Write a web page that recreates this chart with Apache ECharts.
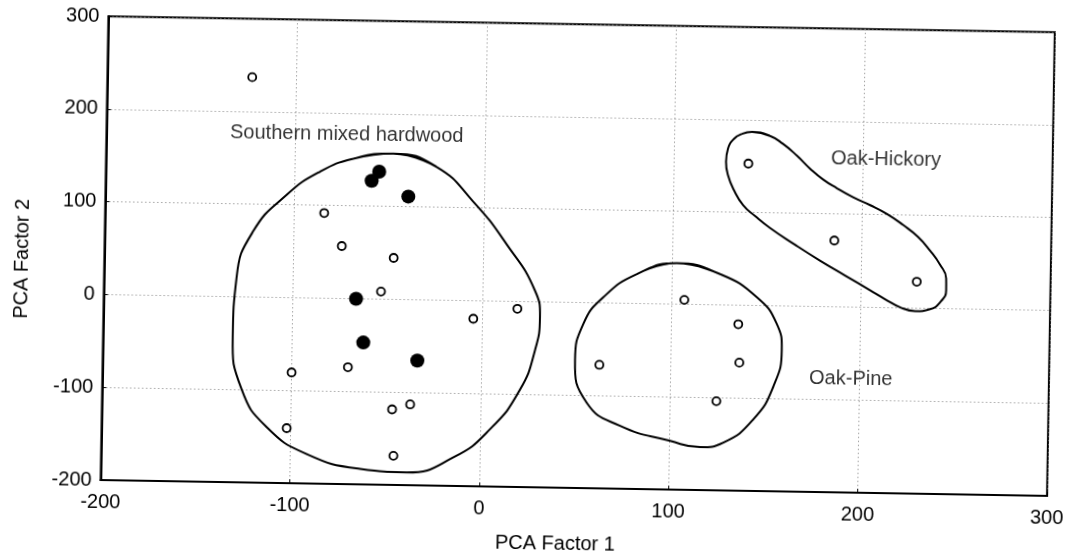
<!DOCTYPE html>
<html>
<head>
<meta charset="utf-8">
<title>PCA Factor 1 vs PCA Factor 2</title>
<script src="https://cdn.jsdelivr.net/npm/echarts@6/dist/echarts.min.js"></script>
<style>
html, body {
	margin: 0;
	padding: 0;
	background: #fff;
}
/* the scanned figure sits slightly askew, so tilt the whole chart a little */
#chart {
	width: 1076px;
	height: 559px;
	transform: rotate(0.96deg);
	transform-origin: 578px 261px;
}
</style>
</head>
<body>
<div id="chart"></div>
<script>
// plots (open circles)
var openPoints = [
	[-123.5, 237], [-84.3, 91.8], [-74.7, 56.6], [-47.2, 44.7], [-53.6, 8.2],
	[-4.6, -19.4], [18.6, -7.9], [-100.1, -80.6], [-70.4, -73.9], [-46.7, -118.6],
	[-37.2, -112.9], [-102.2, -140.7], [-45.6, -168.6],
	[106.7, 4.7], [135.4, -20.6], [136.3, -61.9], [62.4, -66.8], [124.5, -103.9],
	[139.3, 152.8], [185.4, 71.4], [229.3, 28.5]
];
// plots (filled circles)
var filledPoints = [
	[-55.6, 137.4], [-59.5, 127.5], [-40, 111.1], [-66.7, 0], [-62.5, -47], [-33.8, -65.5]
];

// outlines drawn round each group
var southernHull = [
	[-48.3, 157.1], [-25.3, 143.6], [-5.7, 106.9], [12.4, 61.3], [27.7, 12.1],
	[30.6, -16.3], [28.3, -52], [20.7, -95], [5.2, -138.2], [-13.9, -169.2],
	[-38.4, -186.2], [-63.1, -183.3], [-91.4, -168.3], [-112.8, -139.9], [-126.3, -100],
	[-131.5, -43.2], [-130, 20.9], [-121.6, 71], [-104.3, 110.7], [-86.9, 136.3],
	[-69.4, 151]
];
var oakHickoryHull = [
	[141, 187], [150.5, 183], [157.4, 174.7], [164.9, 162.2], [171.9, 148.6],
	[178.9, 137], [186.4, 127.7], [194.9, 118.4], [204, 110.2], [213, 100.9],
	[221.6, 89.4], [229.6, 76.8], [236.1, 62.1], [241.4, 47.4], [244.8, 32.5],
	[244.9, 19.7], [242.3, 7.9], [236.6, -0.9], [228.7, -3.2], [220.7, 0.7],
	[212.7, 9.1], [204.7, 18.4], [191.4, 33.9], [178, 49.5], [164.7, 66.1],
	[151.3, 83.8], [143.3, 96.4], [136.9, 107.9], [132, 123.7], [128.7, 139.6],
	[127.5, 154.5], [128.4, 168.4], [131.5, 179.2], [135.7, 184.7]
];
var oakPineHull = [
	[102.4, 44.1], [125.4, 33.1], [145, 8.9], [155.7, -19.3], [158.6, -47.6],
	[154.5, -86.9], [144.2, -122.8], [128.6, -148.3], [116.3, -153.7], [100.4, -147.5],
	[73.9, -132.3], [56.1, -108.1], [49.5, -62], [53.6, -22.7], [63.9, 6.1],
	[81.4, 31.6]
];

var groupNames = ['Southern mixed hardwood', 'Oak-Hickory', 'Oak-Pine'];
var groupLabelAt = [[-134.7, 176.6], [182.9, 159.6], [173.3, -77.7]];

var xTicks = [-200, -100, 0, 100, 200, 300];
var yTicks = [-200, -100, 0, 100, 200, 300];

var fontFamily = '"Liberation Sans", Arial, sans-serif';

// wrap the ring so the smoothed line closes without a corner
function closeLoop(pts) {
	return [pts[pts.length - 1]].concat(pts, [pts[0], pts[1]]);
}

function hullSeries(pts) {
	return {
		type: 'line',
		data: closeLoop(pts),
		smooth: 0.5,
		showSymbol: false,
		silent: true,
		z: 2,
		lineStyle: { color: '#000', width: 2 }
	};
}

var chart = echarts.init(document.getElementById('chart'));

var axisCommon = {
	type: 'value',
	interval: 100,
	axisLine: { show: true, onZero: false, lineStyle: { color: '#000', width: 2 } },
	axisTick: { show: true, inside: true, length: 4, lineStyle: { color: '#000' } },
	axisLabel: { color: '#000', fontSize: 20, fontFamily: fontFamily },
	splitLine: { show: true, lineStyle: { color: '#777', width: 1, type: [1, 3] } },
	nameLocation: 'middle',
	nameTextStyle: { color: '#000', fontSize: 20, fontFamily: fontFamily }
};

chart.setOption({
	backgroundColor: '#fff',
	animation: false,
	grid: {
		left: 104.4,
		right: 25.1,
		top: 24.2,
		bottom: 66.3,
		show: true,
		borderColor: '#000',
		borderWidth: 2,
		backgroundColor: 'transparent'
	},
	xAxis: Object.assign({}, axisCommon, {
		min: xTicks[0],
		max: xTicks[xTicks.length - 1],
		name: 'PCA Factor 1',
		nameGap: 46,
		axisLabel: Object.assign({}, axisCommon.axisLabel, { margin: 12 }),
		nameTextStyle: Object.assign({}, axisCommon.nameTextStyle, { padding: [0, 36, 0, 0] })
	}),
	yAxis: Object.assign({}, axisCommon, {
		min: yTicks[0],
		max: yTicks[yTicks.length - 1],
		name: 'PCA Factor 2',
		nameGap: 72,
		nameRotate: 90,
		axisLabel: Object.assign({}, axisCommon.axisLabel, { margin: 9 }),
		nameTextStyle: Object.assign({}, axisCommon.nameTextStyle, { padding: [0, 24, 0, 0] })
	}),
	series: [
		hullSeries(southernHull),
		hullSeries(oakHickoryHull),
		hullSeries(oakPineHull),
		{
			type: 'scatter',
			data: openPoints,
			symbol: 'circle',
			symbolSize: 8,
			z: 3,
			itemStyle: { color: '#fff', borderColor: '#000', borderWidth: 1.8, opacity: 1 }
		},
		{
			type: 'scatter',
			data: filledPoints,
			symbol: 'circle',
			symbolSize: 14,
			z: 4,
			itemStyle: { color: '#000', opacity: 1 }
		},
		{
			type: 'scatter',
			data: groupNames.map(function(n, i) {
				return { name: n, value: groupLabelAt[i] };
			}),
			symbolSize: 0,
			silent: true,
			z: 5,
			label: {
				show: true,
				position: [0, 0],
				align: 'left',
				verticalAlign: 'middle',
				formatter: '{b}',
				color: '#000',
				fontSize: 20,
				fontFamily: fontFamily
			}
		}
	]
});
</script>
</body>
</html>
